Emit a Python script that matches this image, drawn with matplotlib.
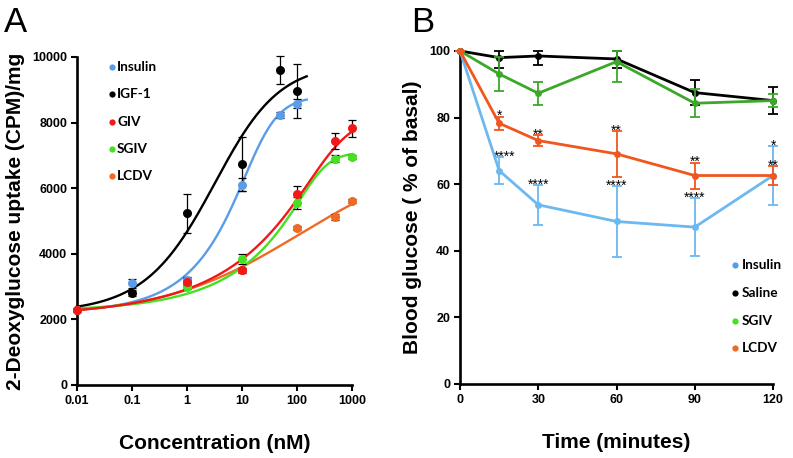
import numpy as np
import matplotlib
matplotlib.use('Agg')
import matplotlib.pyplot as plt

# ---------------- Panel A: 2-deoxyglucose uptake ----------------
conc_insulin = [0.01, 0.1, 1, 10, 50, 100]
uptake_insulin = [2300, 3100, 3200, 6100, 8230, 8580]
err_insulin = [0, 130, 100, 200, 100, 150]

conc_igf1 = [0.01, 0.1, 1, 10, 50, 100]
uptake_igf1 = [2300, 2800, 5230, 6730, 9600, 8960]
err_igf1 = [0, 100, 600, 820, 420, 820]

conc_giv = [0.01, 1, 10, 100, 500, 1000]
uptake_giv = [2300, 3150, 3500, 5820, 7440, 7820]
err_giv = [0, 100, 80, 245, 245, 255]

conc_sgiv = [0.01, 1, 10, 100, 500, 1000]
uptake_sgiv = [2300, 2990, 3850, 5550, 6900, 6960]
err_sgiv = [0, 50, 150, 180, 100, 60]

conc_lcdv = [0.01, 1, 10, 100, 500, 1000]
uptake_lcdv = [2300, 3100, 3500, 4800, 5120, 5620]
err_lcdv = [0, 60, 60, 60, 100, 60]

# fitted dose-response curves: bottom, top, log EC50, hill slope, asymmetry, max conc
fit_insulin = [2200, 8800, 1.33, 1.6, 0.35, 150]
fit_igf1 = [2200, 9800, 0.64, 0.76, 0.8, 150]
fit_giv = [2100, 8200, 2.68, 1.3, 0.25, 1000]
fit_sgiv = [2250, 7100, 2.40, 2.0, 0.2, 1000]
fit_lcdv = [2100, 7100, 2.05, 0.35, 1.0, 1000]

labels_a = ['Insulin', 'IGF-1', 'GIV', 'SGIV', 'LCDV']
colors_a = ['#5b9ce8', '#000000', '#f01818', '#45e022', '#ee6a25']

# ---------------- Panel B: blood glucose ----------------
time_min = [0, 15, 30, 60, 90, 120]
glu_insulin = [100, 64.1, 53.8, 48.8, 47.1, 62.6]
sd_insulin = [0, 4.0, 6.0, 10.7, 8.8, 8.8]
glu_saline = [100, 98.0, 98.5, 97.6, 87.5, 85.1]
sd_saline = [0, 3.0, 2.8, 2.6, 3.8, 4.1]
glu_sgiv = [100, 93.1, 87.3, 96.8, 84.3, 85.1]
sd_sgiv = [0, 5.2, 3.4, 6.2, 4.2, 2.0]
glu_lcdv = [100, 78.3, 73.1, 69.1, 62.6, 62.6]
sd_lcdv = [0, 2.0, 1.6, 6.8, 3.9, 2.8]

stars_lcdv = ['', '*', '**', '**', '**', '**']
stars_insulin = ['', '****', '****', '****', '****', '*']

labels_b = ['Insulin', 'Saline', 'SGIV', 'LCDV']
colors_b = ['#6cb8f0', '#000000', '#3ba82a', '#f0561e']
legend_colors_b = ['#5b9ce8', '#000000', '#45e022', '#ee6a25']

plt.rcParams['font.family'] = ['Liberation Sans', 'DejaVu Sans']

fig = plt.figure(figsize=(7.93, 4.58), dpi=100)
axA = fig.add_axes([0.0971, 0.1594, 0.3468, 0.7162])
axB = fig.add_axes([0.5801, 0.1616, 0.3947, 0.7271])


def dose_curve(fit):
    b, t, lc, h, s, xmax = fit
    lx = np.linspace(-2, np.log10(xmax), 300)
    y = b + (t - b) / (1 + 10 ** ((lc - lx) * h)) ** s
    return 10 ** lx, y


def style_axes(ax):
    for side in ['top', 'right']:
        ax.spines[side].set_visible(False)
    for side in ['left', 'bottom']:
        ax.spines[side].set_linewidth(1.9)
    ax.tick_params(direction='out', length=4, width=1.5, labelsize=9, pad=3)
    for lab in ax.get_xticklabels() + ax.get_yticklabels():
        lab.set_fontweight('bold')


# Panel A
series_a = [
    (conc_insulin, uptake_insulin, err_insulin, fit_insulin),
    (conc_igf1, uptake_igf1, err_igf1, fit_igf1),
    (conc_giv, uptake_giv, err_giv, fit_giv),
    (conc_sgiv, uptake_sgiv, err_sgiv, fit_sgiv),
    (conc_lcdv, uptake_lcdv, err_lcdv, fit_lcdv),
]
draw_order = [0, 1, 4, 3, 2]
for i in draw_order:
    xs, ys, es, fit = series_a[i]
    cx, cy = dose_curve(fit)
    axA.plot(cx, cy, color=colors_a[i], lw=1.7, zorder=2, clip_on=False)
for i in draw_order:
    xs, ys, es, fit = series_a[i]
    axA.errorbar(xs, ys, yerr=es, fmt='none', ecolor='black', elinewidth=0.9,
                 capsize=3, capthick=0.9, zorder=3, clip_on=False)
    axA.plot(xs, ys, 'o', color=colors_a[i], ms=6.5, mec='none', zorder=4, clip_on=False)

axA.set_xscale('log')
axA.set_xlim(0.01, 1000)
axA.set_ylim(0, 10000)
axA.set_xticks([0.01, 0.1, 1, 10, 100, 1000])
axA.set_xticklabels(['0.01', '0.1', '1', '10', '100', '1000'])
axA.xaxis.set_minor_locator(matplotlib.ticker.NullLocator())
axA.set_yticks(np.arange(0, 10001, 2000))
style_axes(axA)
axA.set_xlabel('Concentration (nM)', fontsize=15, fontweight='bold', labelpad=20)
axA.set_ylabel('2-Deoxyglucose uptake (CPM)/mg', fontsize=15, fontweight='bold', labelpad=5)

for k, lab in enumerate(labels_a):
    y = 0.9686 - k * 0.0829
    axA.plot([0.126], [y], 'o', color=colors_a[k], ms=4.5, mec='none',
             transform=axA.transAxes, clip_on=False)
    axA.text(0.146, y, lab, transform=axA.transAxes, va='center', ha='left',
             fontsize=9.8, fontweight='bold', family=['Lato', 'DejaVu Sans'])

# Panel B
series_b = [
    (glu_insulin, sd_insulin),
    (glu_saline, sd_saline),
    (glu_sgiv, sd_sgiv),
    (glu_lcdv, sd_lcdv),
]
for i in [2, 3, 0, 1]:
    ys, es = series_b[i]
    ys = np.array(ys)
    es = np.array(es)
    upper = np.minimum(ys + es, 100) - ys  # error bars stop at the 100 % line
    axB.errorbar(time_min, ys, yerr=[es, upper], fmt='-o', color=colors_b[i], lw=2.0,
                 ms=5, mec='none', elinewidth=1.3, capsize=3.5, capthick=1.3,
                 zorder=3 + i, clip_on=False)

for t, g, e, s in zip(time_min, glu_lcdv, sd_lcdv, stars_lcdv):
    if s:
        axB.annotate(s, (t, g + e), xytext=(0, -2.5), textcoords='offset points',
                     ha='center', va='baseline', fontsize=10)
for k, (t, g, e, s) in enumerate(zip(time_min, glu_insulin, sd_insulin, stars_insulin)):
    if s:
        axB.annotate(s, (t, g + e), xytext=(-4 if k == 1 else 0, -2.5), textcoords='offset points',
                     ha='left' if k == 1 else 'center', va='baseline', fontsize=10)

axB.set_xlim(0, 120)
axB.set_ylim(0, 100)
axB.set_xticks([0, 30, 60, 90, 120])
axB.set_yticks(np.arange(0, 101, 20))
style_axes(axB)
axB.set_xlabel('Time (minutes)', fontsize=15, fontweight='bold', labelpad=20)
axB.set_ylabel('Blood glucose ( % of basal)', fontsize=15, fontweight='bold', labelpad=5)

for k, lab in enumerate(labels_b):
    y = 0.357 - k * 0.0832
    axB.plot([0.8786], [y], 'o', color=legend_colors_b[k], ms=4.5, mec='none',
             transform=axB.transAxes, clip_on=False)
    axB.text(0.9, y, lab, transform=axB.transAxes, va='center', ha='left',
             fontsize=9.8, fontweight='bold', family=['Lato', 'DejaVu Sans'])

fig.text(0.005, 0.93, 'A', fontsize=25)
fig.text(0.518, 0.93, 'B', fontsize=25)

fig.savefig('out.png', dpi=100)
